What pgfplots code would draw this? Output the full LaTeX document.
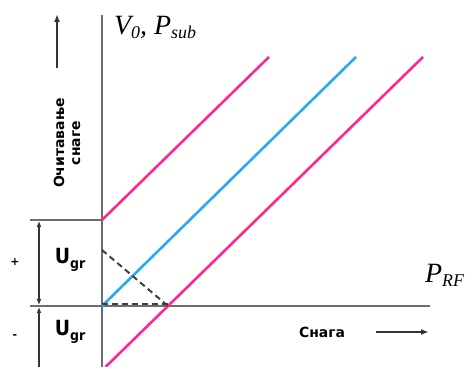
\documentclass[border=0pt]{standalone}
\usepackage{fontspec}
\setmainfont{Liberation Serif}
\newfontfamily\lbl{DejaVu Sans}
\newfontfamily\lblc{DejaVu Sans Condensed}
\usepackage{pgfplots}
\pgfplotsset{compat=1.18}
\usetikzlibrary{arrows.meta}
\definecolor{pinkc}{RGB}{255,40,140}
\definecolor{bluec}{RGB}{40,170,240}
\definecolor{axc}{RGB}{110,110,110}
\begin{document}
\begin{tikzpicture}
\begin{axis}[
  width=467bp, height=367bp, scale only axis,
  xmin=-102, xmax=365, ymin=-61, ymax=306,
  axis lines=none, clip=false,
]
\coordinate (BL) at (rel axis cs:0,0);
\coordinate (TR) at (rel axis cs:1,1);
% axes
\addplot[axc, line width=2.2pt] coordinates {(0,-61) (0,291)};
\addplot[axc, line width=2.2pt] coordinates {(-72,0) (328,0)};
\addplot[axc, line width=2.2pt] coordinates {(-72,86) (0,86)};
% characteristic lines
\addplot[pinkc, line width=2.6pt] coordinates {(0,86) (167,249)};
\addplot[bluec, line width=2.6pt] coordinates {(0,0) (254,249)};
\addplot[pinkc, line width=2.6pt] coordinates {(3.5,-61) (321,249)};
% dashed
\addplot[black!75, line width=2pt, dash pattern=on 6bp off 4bp] coordinates {(0,56) (66,0)};
\addplot[black!75, line width=2pt, dash pattern=on 6bp off 4bp] coordinates {(0,2) (66,2)};
% arrows
\addplot[black!80, line width=1.3pt, {Latex[length=6bp,width=5bp]}-{Latex[length=6bp,width=5bp]}] coordinates {(-63,85) (-63,1)};
\addplot[black!80, line width=1.3pt, {Latex[length=6bp,width=5bp]}-] coordinates {(-63,-1) (-63,-70)};
\addplot[black!80, line width=2.2pt, -{Latex[length=8bp,width=6bp]}] coordinates {(-45,238) (-45,292)};
\addplot[black!80, line width=2pt, -{Latex[length=8bp,width=6bp]}] coordinates {(274,-26) (327,-26)};
% texts
\node[font=\lbl\bfseries\fontsize{14}{14}\selectfont] at (220,-26) {Снага};
\node[rotate=90, align=center, font=\lbl\bfseries\fontsize{14}{16}\selectfont] at (-35,163) {Очитавање\\снаге};
\node[font=\lbl\bfseries\fontsize{11}{11}\selectfont] at (-87,44) {+};
\node[font=\lbl\bfseries\fontsize{11}{11}\selectfont] at (-87,-31) {-};
\node[font=\lblc\bfseries\fontsize{21}{21}\selectfont] at (-32,46) {U\raisebox{-5bp}{\fontsize{14}{14}\selectfont gr}};
\node[font=\lblc\bfseries\fontsize{21}{21}\selectfont] at (-32,-26) {U\raisebox{-5bp}{\fontsize{14}{14}\selectfont gr}};
\node[anchor=base west, inner sep=0pt, font=\fontsize{28}{28}\selectfont\itshape] at (12,271) {V\raisebox{-3.5bp}{\fontsize{18}{18}\selectfont 0}, P\raisebox{-3.5bp}{\fontsize{18}{18}\selectfont sub}};
\node[anchor=base west, inner sep=0pt, font=\fontsize{28}{28}\selectfont\itshape] at (323,23) {P\raisebox{-3.5bp}{\fontsize{18}{18}\selectfont RF}};
\end{axis}
\pgfresetboundingbox
\path (BL) rectangle (TR);
\end{tikzpicture}
\end{document}
